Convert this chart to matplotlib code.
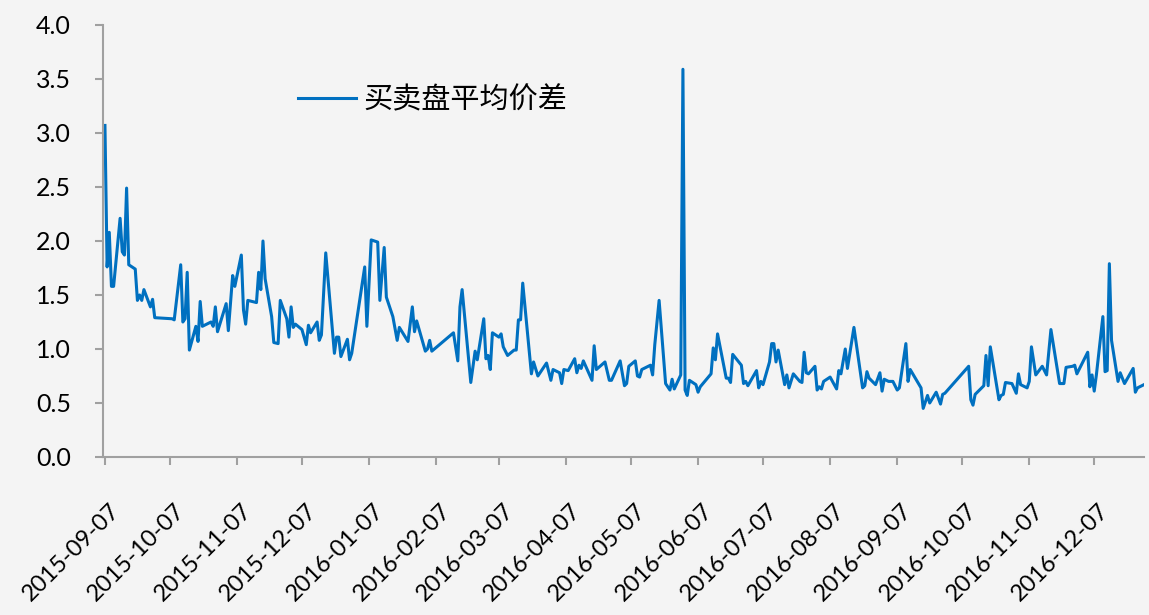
import numpy as np
import pandas as pd
import matplotlib
matplotlib.use('Agg')
import matplotlib.pyplot as plt
import matplotlib.dates as mdates
from matplotlib.ticker import FormatStrFormatter
from matplotlib.transforms import ScaledTranslation

# 交易日相对 2015-09-07 的天数, 以及对应的买卖盘平均价差
start = pd.Timestamp('2015-09-07')
day_offsets = [
    0, 1, 2, 3, 4, 7, 8, 9, 10, 11, 14, 15, 16, 17, 18, 21, 22, 23, 31, 32,
    35, 36, 37, 38, 39, 42, 43, 44, 45, 49, 50, 51, 52, 56, 57, 59, 60, 63, 64, 65,
    66, 70, 71, 72, 73, 74, 77, 78, 80, 81, 84, 85, 86, 87, 88, 91, 93, 94, 95, 98,
    99, 100, 102, 106, 107, 108, 109, 112, 113, 114, 120, 121, 123, 126, 127, 129, 130, 133, 135, 136,
    140, 142, 143, 144, 148, 149, 150, 151, 161, 163, 164, 165, 169, 171, 172, 175, 176, 177, 178, 179,
    182, 183, 184, 186, 189, 190, 191, 192, 193, 197, 198, 200, 204, 206, 207, 210, 211, 212, 214, 217,
    218, 219, 220, 221, 225, 226, 227, 231, 233, 234, 238, 240, 241, 242, 245, 246, 247, 248, 252, 253,
    254, 256, 259, 261, 262, 263, 266, 267, 268, 269, 270, 273, 274, 275, 280, 281, 282, 283, 287, 288,
    289, 290, 294, 295, 296, 297, 301, 302, 303, 304, 307, 308, 309, 310, 311, 314, 315, 316, 318, 321,
    322, 323, 324, 325, 328, 329, 330, 331, 332, 335, 338, 339, 340, 342, 343, 346, 350, 351, 352, 353,
    356, 358, 359, 360, 362, 364, 366, 367, 370, 371, 372, 377, 378, 380, 381, 384, 386, 387, 388, 399,
    400, 401, 402, 403, 406, 407, 408, 409, 413, 414, 415, 416, 419, 421, 422, 423, 426, 427, 428, 430,
    433, 435, 437, 441, 443, 444, 447, 448, 449, 454, 455, 456, 457, 458, 461, 462, 463, 464, 465, 468,
    469, 471, 475, 476, 477, 480,
]
spread = [
    3.07, 1.76, 2.08, 1.58, 1.58, 2.21, 1.90, 1.87, 2.49, 1.78, 1.74, 1.45, 1.50, 1.45, 1.55, 1.39, 1.46, 1.29, 1.28, 1.27,
    1.78, 1.25, 1.28, 1.71, 0.99, 1.21, 1.07, 1.44, 1.21, 1.25, 1.21, 1.39, 1.16, 1.42, 1.17, 1.68, 1.58, 1.87, 1.36, 1.23,
    1.45, 1.43, 1.71, 1.55, 2.00, 1.65, 1.30, 1.06, 1.05, 1.45, 1.28, 1.11, 1.39, 1.20, 1.23, 1.18, 1.04, 1.22, 1.15, 1.25,
    1.08, 1.13, 1.89, 0.96, 1.11, 1.11, 0.93, 1.09, 0.90, 0.96, 1.76, 1.21, 2.01, 1.99, 1.45, 1.94, 1.48, 1.30, 1.08, 1.20,
    1.07, 1.39, 1.16, 1.26, 0.98, 1.00, 1.08, 0.98, 1.15, 0.89, 1.39, 1.55, 0.69, 0.98, 0.90, 1.28, 0.91, 0.94, 0.81, 1.15,
    1.11, 1.14, 1.02, 0.94, 0.99, 0.99, 1.27, 1.27, 1.61, 0.77, 0.88, 0.75, 0.87, 0.71, 0.81, 0.78, 0.68, 0.81, 0.80, 0.91,
    0.78, 0.85, 0.82, 0.89, 0.71, 1.03, 0.81, 0.88, 0.71, 0.71, 0.89, 0.66, 0.68, 0.84, 0.89, 0.75, 0.74, 0.81, 0.85, 0.76,
    1.04, 1.45, 0.68, 0.62, 0.72, 0.63, 0.76, 3.59, 0.62, 0.57, 0.71, 0.67, 0.60, 0.65, 0.77, 1.01, 0.90, 1.14, 0.73, 0.73,
    0.69, 0.95, 0.85, 0.68, 0.70, 0.66, 0.80, 0.64, 0.70, 0.67, 0.88, 1.05, 1.05, 0.88, 0.99, 0.67, 0.76, 0.64, 0.77, 0.70,
    0.69, 0.97, 0.78, 0.77, 0.84, 0.62, 0.65, 0.63, 0.70, 0.74, 0.63, 0.80, 0.77, 1.00, 0.82, 1.20, 0.64, 0.66, 0.79, 0.73,
    0.67, 0.78, 0.61, 0.72, 0.70, 0.70, 0.62, 0.64, 1.05, 0.70, 0.81, 0.64, 0.45, 0.57, 0.50, 0.60, 0.49, 0.58, 0.59, 0.84,
    0.53, 0.48, 0.58, 0.60, 0.66, 0.94, 0.66, 1.02, 0.53, 0.57, 0.58, 0.69, 0.68, 0.59, 0.77, 0.67, 0.64, 0.70, 1.02, 0.76,
    0.84, 0.76, 1.18, 0.68, 0.68, 0.83, 0.84, 0.85, 0.77, 0.97, 0.65, 0.76, 0.61, 0.76, 1.30, 0.79, 0.80, 1.79, 1.08, 0.70,
    0.78, 0.68, 0.82, 0.60, 0.64, 0.67,
]
series_name = '买卖盘平均价差'
y_ticks = [0.0, 0.5, 1.0, 1.5, 2.0, 2.5, 3.0, 3.5, 4.0]
x_ticks = pd.date_range('2015-09-07', '2016-12-07', freq=pd.DateOffset(months=1))

dates = start + pd.to_timedelta(day_offsets, unit='D')

bg = '#F4F4F4'
axis_grey = '#A0A0A0'
W, H = 1149, 615

fig = plt.figure(figsize=(W / 100, H / 100), dpi=100, facecolor=bg)
ax = fig.add_axes([103 / W, 1 - 457 / H, (1144 - 103) / W, (457 - 25) / H])
ax.set_facecolor(bg)

ax.plot(dates, spread, color='#0070C0', lw=2.2, label=series_name)

ax.set_ylim(0, 4)
ax.set_yticks(y_ticks)
ax.yaxis.set_major_formatter(FormatStrFormatter('%.1f'))
ax.set_xlim(start - pd.Timedelta(days=0.9), start + pd.Timedelta(days=480.0))
ax.set_xticks(x_ticks)
ax.xaxis.set_major_formatter(mdates.DateFormatter('%Y-%m-%d'))

for s in ['top', 'right']:
    ax.spines[s].set_visible(False)
for s in ['left', 'bottom']:
    ax.spines[s].set_color(axis_grey)
    ax.spines[s].set_linewidth(1.5)

ax.tick_params(axis='y', length=6, width=1.5, color=axis_grey, pad=17, labelsize=18)
ax.tick_params(axis='x', length=6, width=1.5, color=axis_grey, pad=25, labelsize=17)
for lab in ax.get_yticklabels() + ax.get_xticklabels():
    lab.set_family('Lato')
shift = ScaledTranslation(4 / 100, 0, fig.dpi_scale_trans)
for lab in ax.get_xticklabels():
    lab.set_rotation(45)
    lab.set_ha('right')
    lab.set_rotation_mode('anchor')
    lab.set_transform(lab.get_transform() + shift)

ax.legend(loc='center left', bbox_to_anchor=(298 / W, 1 - 100 / H), bbox_transform=fig.transFigure,
          frameon=False, borderpad=0, borderaxespad=0, handlelength=2.0, handletextpad=0.25,
          prop={'family': ['Noto Sans CJK SC', 'DejaVu Sans'], 'size': 21})

fig.savefig('out.png', dpi=100, facecolor=bg)
